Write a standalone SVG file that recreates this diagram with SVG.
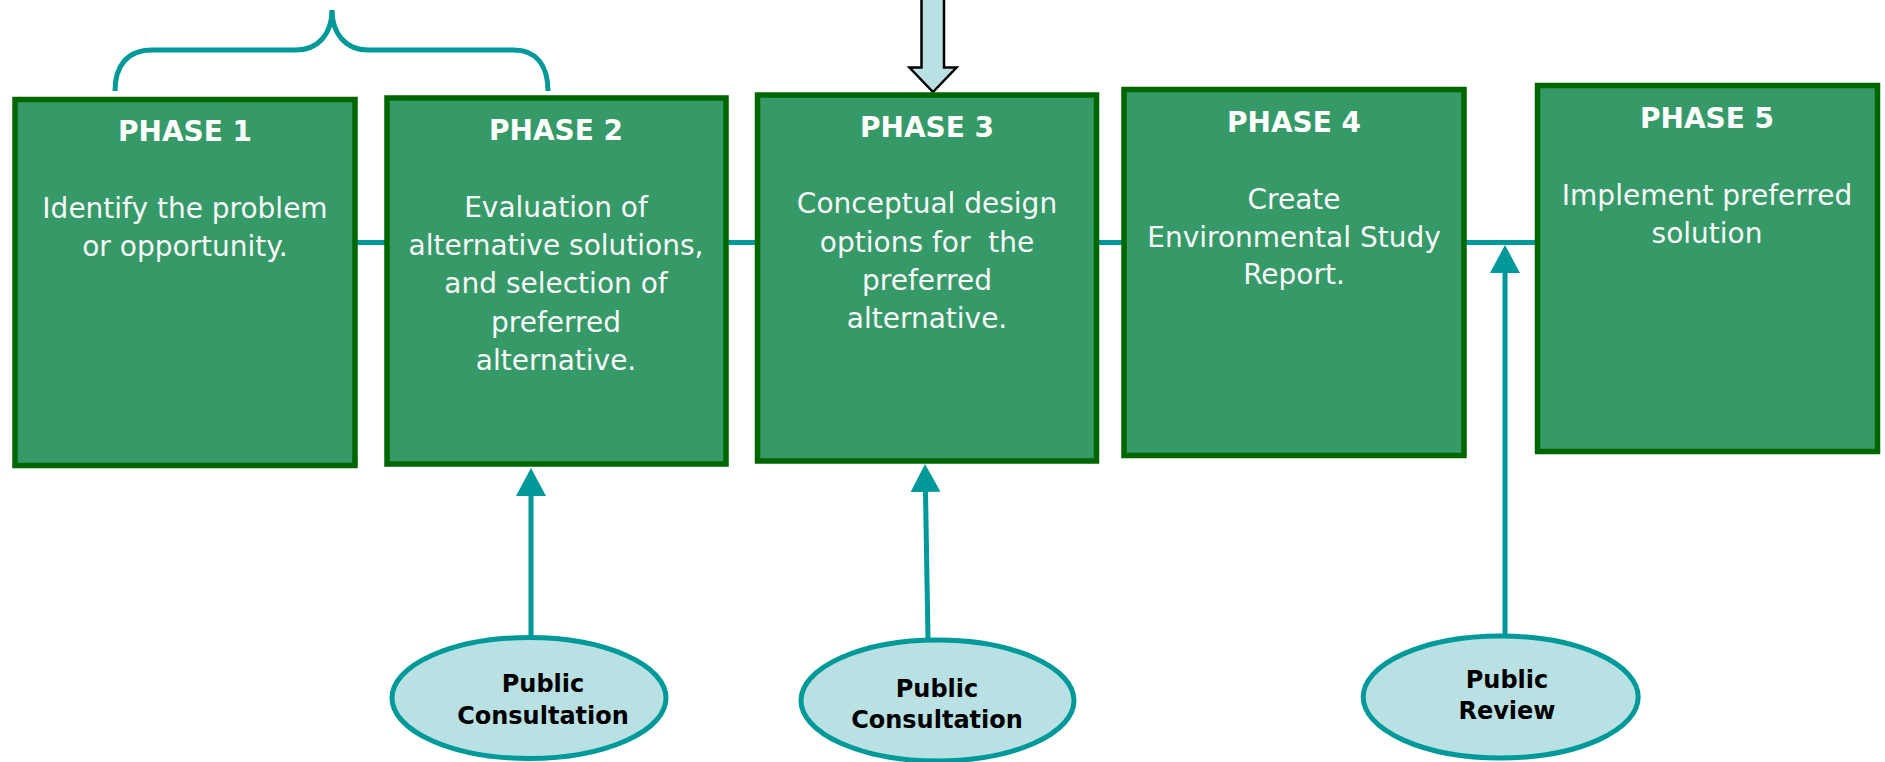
<svg xmlns="http://www.w3.org/2000/svg" width="1885" height="762" viewBox="0 0 1885 762">
<style>
.box{fill:#369a68;stroke:#006600;stroke-width:5.5}
.title{font-family:"DejaVu Sans",Verdana,sans-serif;font-weight:bold;font-size:28px;fill:#ffffff;text-anchor:middle}
.body{font-family:"DejaVu Sans",Verdana,sans-serif;font-size:28px;fill:#f8f8f8;text-anchor:middle}
.oval{fill:#b9e0e3;stroke:#009999;stroke-width:5}
.otext{font-family:"DejaVu Sans",Verdana,sans-serif;font-weight:bold;font-size:24px;fill:#000000;text-anchor:middle}
.conn{fill:none;stroke:#009999;stroke-width:5}
</style>
<defs>
<marker id="head" markerUnits="userSpaceOnUse" viewBox="0 0 28 30" refX="0" refY="15" markerWidth="28" markerHeight="30" orient="auto">
<path d="M0,0 L28,15 L0,30 Z" fill="#009999"/>
</marker>
</defs>
<rect width="1885" height="762" fill="#ffffff"/>
<g id="connectors">
<line class="conn" x1="357" y1="242.5" x2="1536" y2="242.5"/>
<path class="conn" stroke-width="4.5" d="M115,91 C115,65 128,50 152,50 L296,50 C318,50 332,34 332,10 C332,34 346,50 368,50 L514,50 C536,50 548,65 548,91"/>
<line class="conn" x1="531" y1="636" x2="531" y2="496" marker-end="url(#head)"/>
<line class="conn" x1="928" y1="639" x2="925.5" y2="492" marker-end="url(#head)"/>
<line class="conn" x1="1505" y1="634" x2="1505" y2="273" marker-end="url(#head)"/>
</g>
<g id="input-arrow">
<polygon points="921.5,-5 944,-5 944,67.5 956.5,67.5 933,92 909.5,67.5 921.5,67.5" fill="#b9e0e3" stroke="#000000" stroke-width="2.5" stroke-linejoin="miter"/>
</g>
<g id="phase1">
<rect class="box" x="15" y="99.5" width="340" height="366"/>
<text class="title" x="185" y="141">PHASE 1</text>
<text class="body" x="185" y="217.7">Identify the problem</text>
<text class="body" x="185" y="256">or opportunity.</text>
</g>
<g id="phase2">
<rect class="box" x="387" y="98" width="339" height="366"/>
<text class="title" x="556" y="140">PHASE 2</text>
<text class="body" x="556" y="216.7">Evaluation of</text>
<text class="body" x="556" y="255">alternative solutions,</text>
<text class="body" x="556" y="293.3">and selection of</text>
<text class="body" x="556" y="331.7">preferred</text>
<text class="body" x="556" y="370">alternative.</text>
</g>
<g id="phase3">
<rect class="box" x="757.5" y="95" width="339" height="366"/>
<text class="title" x="927" y="136.7">PHASE 3</text>
<text class="body" x="927" y="213.3">Conceptual design</text>
<text class="body" x="927" y="251.7" style="white-space:pre">options for  the</text>
<text class="body" x="927" y="290">preferred</text>
<text class="body" x="927" y="328.3">alternative.</text>
</g>
<g id="phase4">
<rect class="box" x="1124" y="89.5" width="340" height="366"/>
<text class="title" x="1294" y="132.3">PHASE 4</text>
<text class="body" x="1294" y="209">Create</text>
<text class="body" x="1294" y="246.7">Environmental Study</text>
<text class="body" x="1294" y="284.3">Report.</text>
</g>
<g id="phase5">
<rect class="box" x="1537.5" y="85.5" width="340" height="366"/>
<text class="title" x="1707" y="128.3">PHASE 5</text>
<text class="body" x="1707" y="205">Implement preferred</text>
<text class="body" x="1707" y="242.7">solution</text>
</g>
<g id="consultation1">
<ellipse class="oval" cx="529" cy="698" rx="137" ry="60.5"/>
<text class="otext" x="543" y="692.3">Public</text>
<text class="otext" x="543" y="724">Consultation</text>
</g>
<g id="consultation2">
<ellipse class="oval" cx="937.5" cy="700.5" rx="136.5" ry="60.5"/>
<text class="otext" x="937" y="697.3">Public</text>
<text class="otext" x="937" y="728.3">Consultation</text>
</g>
<g id="review">
<ellipse class="oval" cx="1500.7" cy="697" rx="137.5" ry="61"/>
<text class="otext" x="1507" y="688.3">Public</text>
<text class="otext" x="1507" y="719.3">Review</text>
</g>
</svg>
